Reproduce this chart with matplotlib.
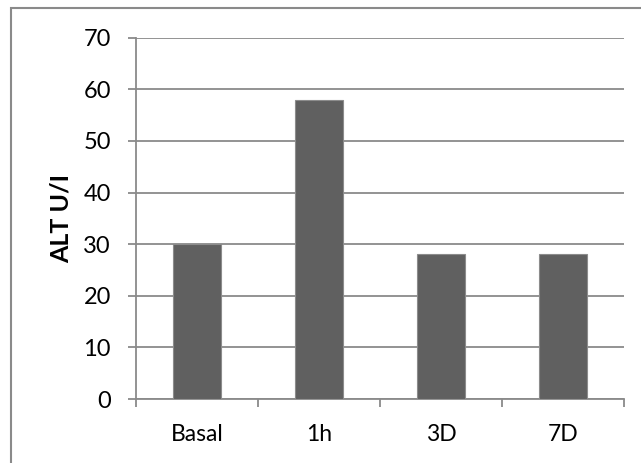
import matplotlib
matplotlib.use("Agg")
import matplotlib.pyplot as plt
from matplotlib.patches import Rectangle
import numpy as np

categories = ["Basal", "1h", "3D", "7D"]
alt_values = [30, 58, 28, 28]
y_ticks = [0, 10, 20, 30, 40, 50, 60, 70]

plt.rcParams['font.family'] = ['Lato', 'DejaVu Sans']

W, H = 641, 463
fig = plt.figure(figsize=(W / 100, H / 100), dpi=100)
ax = fig.add_axes([136 / W, 1 - 399 / H, (624 - 136) / W, (399 - 37.7) / H])

grid_c = '#8a8a8a'
x = np.arange(len(categories))
ax.bar(x, alt_values, width=0.39, color='#606060', edgecolor='#8c8c8c',
       linewidth=0.8, zorder=3)

ax.set_xlim(-0.5, len(categories) - 0.5)
ax.set_ylim(0, 70)
ax.set_yticks(y_ticks)
ax.set_yticklabels([str(v) for v in y_ticks], fontsize=17)
ax.yaxis.grid(True, color=grid_c, linewidth=1.3, zorder=0)
ax.set_axisbelow(True)

ax.set_xticks(x)
ax.set_xticklabels(categories, fontsize=16.5)
ax.set_xticks(np.arange(len(categories) + 1) - 0.5, minor=True)
ax.tick_params(axis='x', which='major', length=0, pad=18)
ax.tick_params(axis='x', which='minor', length=5.5, width=1.3, color=grid_c)
ax.tick_params(axis='y', which='major', length=6, width=1.3, color=grid_c, pad=12)

for side in ('top', 'right'):
    ax.spines[side].set_visible(False)
for side in ('left', 'bottom'):
    ax.spines[side].set_color(grid_c)
    ax.spines[side].set_linewidth(1.3)

ax.set_ylabel("ALT U/I", fontsize=18, fontweight='bold', labelpad=8)

# outer frame around the chart area
fig.add_artist(Rectangle((11 / W, -0.05), 1.2, 1 - 8 / H + 0.05,
                         transform=fig.transFigure, fill=False,
                         edgecolor='#8a8a8a', linewidth=1.5, clip_on=False))

fig.savefig("out.png", dpi=100)
